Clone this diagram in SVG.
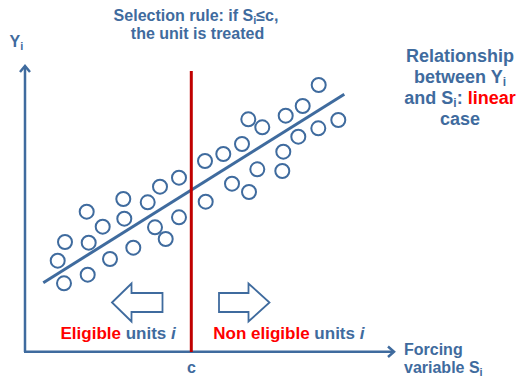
<svg xmlns="http://www.w3.org/2000/svg" width="520" height="377" viewBox="0 0 520 377">
<style>
text{font-family:"Liberation Sans",Arial,sans-serif;font-weight:bold;fill:#3F6B9E}
.r{fill:#FF0000}
.dot{fill:none;stroke:#3F6B9E;stroke-width:2}
.ax{stroke:#3F6B9E;stroke-width:2.5;fill:none}
.blk{fill:#fff;stroke:#3F6B9E;stroke-width:1.8}
</style>
<rect width="520" height="377" fill="#fff"/>
<g id="axes">
<line class="ax" x1="25" y1="67" x2="25" y2="352"/>
<line class="ax" x1="24" y1="351.7" x2="393" y2="351.7"/>
<polyline class="ax" points="20,72 25,66 30,72"/>
<polyline class="ax" points="388,346.5 394,351.7 388,357"/>
</g>
<g id="points">
<circle class="dot" cx="318.7" cy="85" r="7"/>
<circle class="dot" cx="248.3" cy="119.3" r="7"/>
<circle class="dot" cx="262.3" cy="127.3" r="7"/>
<circle class="dot" cx="285.7" cy="115.7" r="7"/>
<circle class="dot" cx="302.7" cy="106" r="7"/>
<circle class="dot" cx="338.3" cy="120" r="7"/>
<circle class="dot" cx="318.3" cy="128.3" r="7"/>
<circle class="dot" cx="298.3" cy="136.7" r="7"/>
<circle class="dot" cx="283.3" cy="151.7" r="7"/>
<circle class="dot" cx="282.3" cy="171" r="7"/>
<circle class="dot" cx="257.3" cy="169.3" r="7"/>
<circle class="dot" cx="242" cy="144" r="7"/>
<circle class="dot" cx="223.3" cy="154" r="7"/>
<circle class="dot" cx="205" cy="161" r="7"/>
<circle class="dot" cx="232" cy="183.7" r="7"/>
<circle class="dot" cx="249" cy="192" r="7"/>
<circle class="dot" cx="205.7" cy="201.7" r="7"/>
<circle class="dot" cx="179" cy="177.7" r="7"/>
<circle class="dot" cx="160" cy="186.7" r="7"/>
<circle class="dot" cx="147.7" cy="202.3" r="7"/>
<circle class="dot" cx="123.3" cy="199" r="7"/>
<circle class="dot" cx="124.3" cy="218.7" r="7"/>
<circle class="dot" cx="86.7" cy="211.7" r="7"/>
<circle class="dot" cx="102.7" cy="226.7" r="7"/>
<circle class="dot" cx="88.7" cy="242.7" r="7"/>
<circle class="dot" cx="65" cy="242" r="7"/>
<circle class="dot" cx="57.7" cy="260.7" r="7"/>
<circle class="dot" cx="64" cy="283.3" r="7"/>
<circle class="dot" cx="87.7" cy="274.7" r="7"/>
<circle class="dot" cx="110" cy="259" r="7"/>
<circle class="dot" cx="133.3" cy="247.7" r="7"/>
<circle class="dot" cx="155" cy="227.3" r="7"/>
<circle class="dot" cx="165.7" cy="239" r="7"/>
<circle class="dot" cx="179" cy="217.3" r="7"/>
</g>
<g id="fit-line">
<line x1="43.3" y1="282.7" x2="344.3" y2="94.3" stroke="#3F6B9E" stroke-width="3"/>
</g>
<g id="cutoff">
<line x1="191.3" y1="71" x2="191.3" y2="352" stroke="#C00000" stroke-width="3"/>
</g>
<g id="arrow-left">
<polygon class="blk" points="112,302.5 131.5,283.5 131.5,293 162.5,293 162.5,312 131.5,312 131.5,321.5"/>
</g>
<g id="arrow-right">
<polygon class="blk" points="219,293 248.5,293 248.5,283.5 269.5,302.5 248.5,321.5 248.5,312 219,312"/>
</g>
<g id="labels">
<text x="196" y="20.7" font-size="16" text-anchor="middle">Selection rule: if S<tspan font-size="11" dy="3">i</tspan><tspan dy="-3">≤c,</tspan></text>
<text x="197.5" y="39.3" font-size="16" text-anchor="middle">the unit is treated</text>
<text x="9.5" y="46.7" font-size="16">Y<tspan font-size="11" dy="3">i</tspan></text>
<text x="460" y="62.3" font-size="18" text-anchor="middle">Relationship</text>
<text x="460" y="83.3" font-size="18" text-anchor="middle">between Y<tspan font-size="12" dy="3">i</tspan></text>
<text x="460" y="104.3" font-size="18" text-anchor="middle">and S<tspan font-size="12" dy="3">i</tspan><tspan dy="-3">: </tspan><tspan class="r">linear</tspan></text>
<text x="460" y="125.3" font-size="18" text-anchor="middle">case</text>
<text x="60.5" y="339.3" font-size="17"><tspan class="r">Eligible</tspan> units <tspan font-style="italic">i</tspan></text>
<text x="213.3" y="339.3" font-size="17"><tspan class="r">Non eligible</tspan> units <tspan font-style="italic">i</tspan></text>
<text x="191.5" y="372.7" font-size="16" text-anchor="middle">c</text>
<text x="404" y="355" font-size="16">Forcing</text>
<text x="404" y="373.3" font-size="16">variable S<tspan font-size="11" dy="3">i</tspan></text>
</g>
</svg>
